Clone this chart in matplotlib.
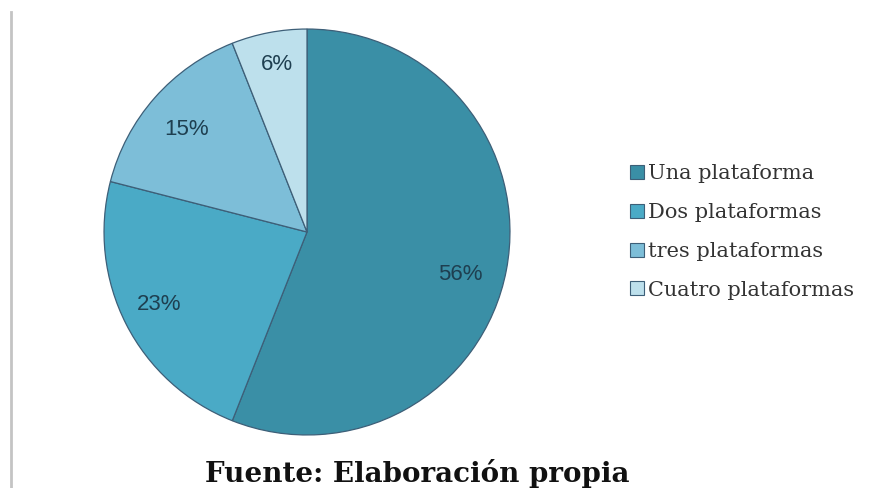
import matplotlib.pyplot as plt
from matplotlib.lines import Line2D

# datos del grafico
categorias = ['Una plataforma', 'Dos plataformas', 'tres plataformas', 'Cuatro plataformas']
porcentajes = [56, 23, 15, 6]
colores = ['#3a8fa6', '#4aaac6', '#7dbed8', '#bde0ec']
fuente = 'Fuente: Elaboración propia'

# posicion de cada etiqueta dentro del pastel (unidades del radio)
pos_etiquetas = [(0.756, -0.21), (-0.727, -0.356), (-0.595, 0.507), (-0.146, 0.824)]

fig = plt.figure(figsize=(8.74, 4.88), dpi=100)

ax = fig.add_axes([102 / 874, 51 / 488, 410 / 874, 410 / 488])
wedges, texts, autotexts = ax.pie(porcentajes, colors=colores, startangle=90, counterclock=False,
                                  autopct='%d%%', pctdistance=0.8,
                                  wedgeprops=dict(edgecolor='#3d5f78', linewidth=0.9),
                                  textprops=dict(color='#1e3f50', fontsize=16, family='Liberation Sans'))
for t, p in zip(autotexts, pos_etiquetas):
    t.set_position(p)
ax.set_xlim(-1.01, 1.01)
ax.set_ylim(-1.01, 1.01)
ax.set_aspect('equal')

# leyenda
handles = [Line2D([], [], marker='s', linestyle='none', markersize=10, markerfacecolor=c,
                  markeredgecolor='#3d5f78', markeredgewidth=0.8) for c in colores]
fig.legend(handles, categorias, loc='center left', bbox_to_anchor=(610 / 874, 1 - 232 / 488),
           frameon=False, handletextpad=0.1, labelspacing=0.95, handlelength=0.8,
           prop=dict(family='DejaVu Serif', size=15), labelcolor='#333333')

# linea gris a la izquierda
fig.add_artist(Line2D([11 / 874, 11 / 874], [0, 1 - 12 / 488], color='#c4c4c4', linewidth=2))

fig.text(417 / 874, 1 - 474 / 488, fuente, ha='center', va='center', fontsize=20,
         fontweight='bold', family='DejaVu Serif', color='#111111')

fig.savefig('out.png', dpi=100)
